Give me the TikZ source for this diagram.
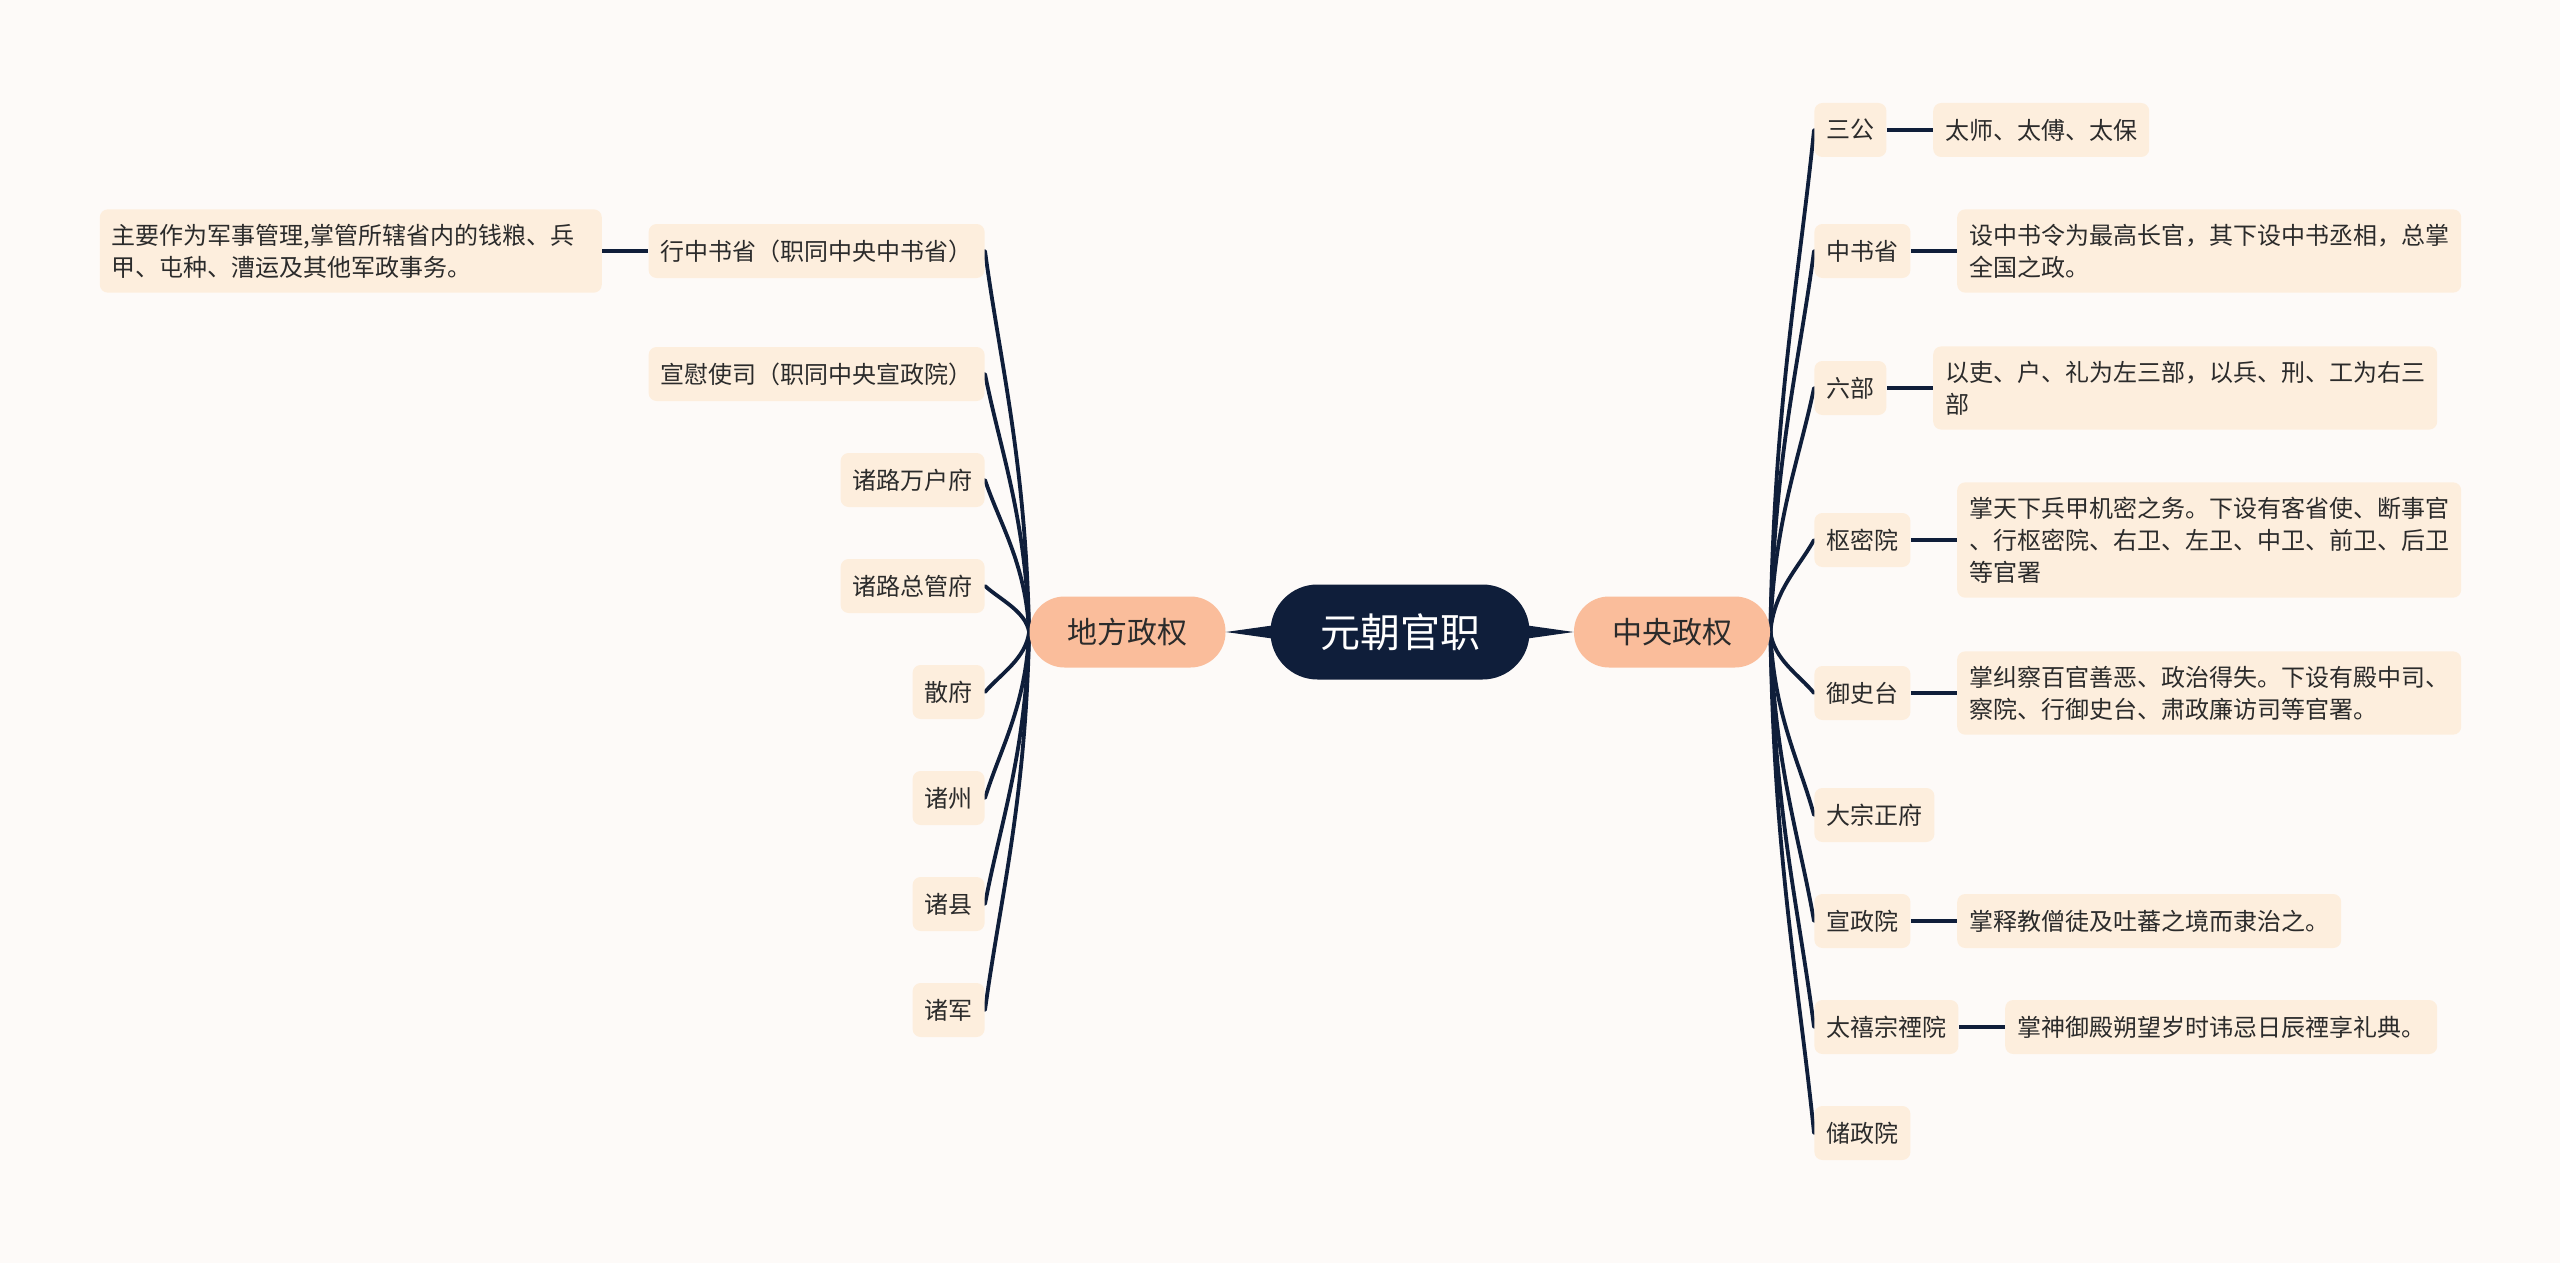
\documentclass[tikz,border=0pt]{standalone}
\usepackage{fontspec}
\setmainfont{Noto Sans CJK SC}
\usetikzlibrary{calc}
\definecolor{bgc}{HTML}{FDFAF8}
\definecolor{leafc}{HTML}{FDEEDD}
\definecolor{midc}{HTML}{FABD9B}
\definecolor{navy}{HTML}{0F1E3A}
\definecolor{txt}{HTML}{2B2B2B}
\pgfdeclarelayer{bg}
\pgfsetlayers{bg,main}
\tikzset{
 leaf/.style={fill=leafc, rounded corners=4pt, inner xsep=6pt, inner ysep=7.25pt, minimum height=27pt, font=\fontsize{12}{16}\selectfont, text=txt, align=left},
 mid/.style={fill=midc, rounded corners=17.5pt, minimum width=98pt, minimum height=35.5pt, font=\fontsize{15}{18}\selectfont, text=txt},
 rootbox/.style={fill=navy, rounded corners=23.5pt, minimum width=129.5pt, minimum height=47.5pt, font=\fontsize{20}{24}\selectfont, text=white},
 link/.style={draw=navy, line width=1.9pt, line cap=round},
 bar/.style={draw=navy, line width=2pt},
}
\newcommand\mmconn[2]{\draw[link] let \p1=(#1), \p2=(#2) in (\p1) .. controls ({\x1+0.08*(\x2-\x1)},{\y1+0.45*(\y2-\y1)}) and ({\x2-0.35*(\x2-\x1)},{\y2-0.3*(\y2-\y1)}) .. (\p2);}
\begin{document}
\begin{tikzpicture}[x=0.5pt,y=-0.5pt]
\useasboundingbox (0,0) rectangle (2560,1263);

\node[rootbox] (root) at (1400,632) {元朝官职};
\node[mid] (zy) at (1672,632) {中央政权};
\node[mid] (df) at (1127.5,632) {地方政权};

% right side
\node[leaf, anchor=west] (r1) at (1814,130) {三公};
\node[leaf, anchor=west] (r2) at (1814,251) {中书省};
\node[leaf, anchor=west] (r3) at (1814,388) {六部};
\node[leaf, anchor=west] (r4) at (1814,540) {枢密院};
\node[leaf, anchor=west] (r5) at (1814,693) {御史台};
\node[leaf, anchor=west] (r6) at (1814,815) {大宗正府};
\node[leaf, anchor=west] (r7) at (1814,921) {宣政院};
\node[leaf, anchor=west] (r8) at (1814,1027) {太禧宗禋院};
\node[leaf, anchor=west] (r9) at (1814,1133) {储政院};

\node[leaf, anchor=west] (d1) at ([xshift=23pt]r1.east) {太师、太傅、太保};
\node[leaf, anchor=west] (d2) at ([xshift=23pt]r2.east) {设中书令为最高长官，其下设中书丞相，总掌\\全国之政。};
\node[leaf, anchor=west] (d3) at ([xshift=23pt]r3.east) {以吏、户、礼为左三部，以兵、刑、工为右三\\部};
\node[leaf, anchor=west] (d4) at ([xshift=23pt]r4.east) {掌天下兵甲机密之务。下设有客省使、断事官\\、行枢密院、右卫、左卫、中卫、前卫、后卫\\等官署};
\node[leaf, anchor=west] (d5) at ([xshift=23pt]r5.east) {掌纠察百官善恶、政治得失。下设有殿中司、\\察院、行御史台、肃政廉访司等官署。};
\node[leaf, anchor=west] (d7) at ([xshift=23pt]r7.east) {掌释教僧徒及吐蕃之境而隶治之。};
\node[leaf, anchor=west] (d8) at ([xshift=23pt]r8.east) {掌神御殿朔望岁时讳忌日辰禋享礼典。};

% left side
\node[leaf, anchor=east] (l1) at (985,251) {行中书省（职同中央中书省）};
\node[leaf, anchor=east] (l2) at (985,374) {宣慰使司（职同中央宣政院）};
\node[leaf, anchor=east] (l3) at (985,480) {诸路万户府};
\node[leaf, anchor=east] (l4) at (985,586) {诸路总管府};
\node[leaf, anchor=east] (l5) at (985,692) {散府};
\node[leaf, anchor=east] (l6) at (985,798) {诸州};
\node[leaf, anchor=east] (l7) at (985,904) {诸县};
\node[leaf, anchor=east] (l8) at (985,1010) {诸军};

\node[leaf, anchor=east, text width=239pt] (e1) at ([xshift=-23pt]l1.west) {主要作为军事管理,掌管所辖省内的钱粮、兵\\甲、屯种、漕运及其他军政事务。};

\begin{pgfonlayer}{bg}
\fill[bgc] (0,0) rectangle (2560,1263);
\fill[navy] (zy.west) -- ($(root.east)+(-20,-9)$) -- ($(root.east)+(-20,9)$) -- cycle;
\fill[navy] (df.east) -- ($(root.west)+(20,-9)$) -- ($(root.west)+(20,9)$) -- cycle;
\foreach \nm in {r1,r2,r3,r4,r5,r6,r7,r8,r9} {\mmconn{zy.east}{\nm.west}}
\foreach \nm in {l1,l2,l3,l4,l5,l6,l7,l8} {\mmconn{df.west}{\nm.east}}
\draw[bar] (r1) -- (d1);
\draw[bar] (r2) -- (d2);
\draw[bar] (r3) -- (d3);
\draw[bar] (r4) -- (d4);
\draw[bar] (r5) -- (d5);
\draw[bar] (r7) -- (d7);
\draw[bar] (r8) -- (d8);
\draw[bar] (l1) -- (e1);
\end{pgfonlayer}
\end{tikzpicture}
\end{document}
